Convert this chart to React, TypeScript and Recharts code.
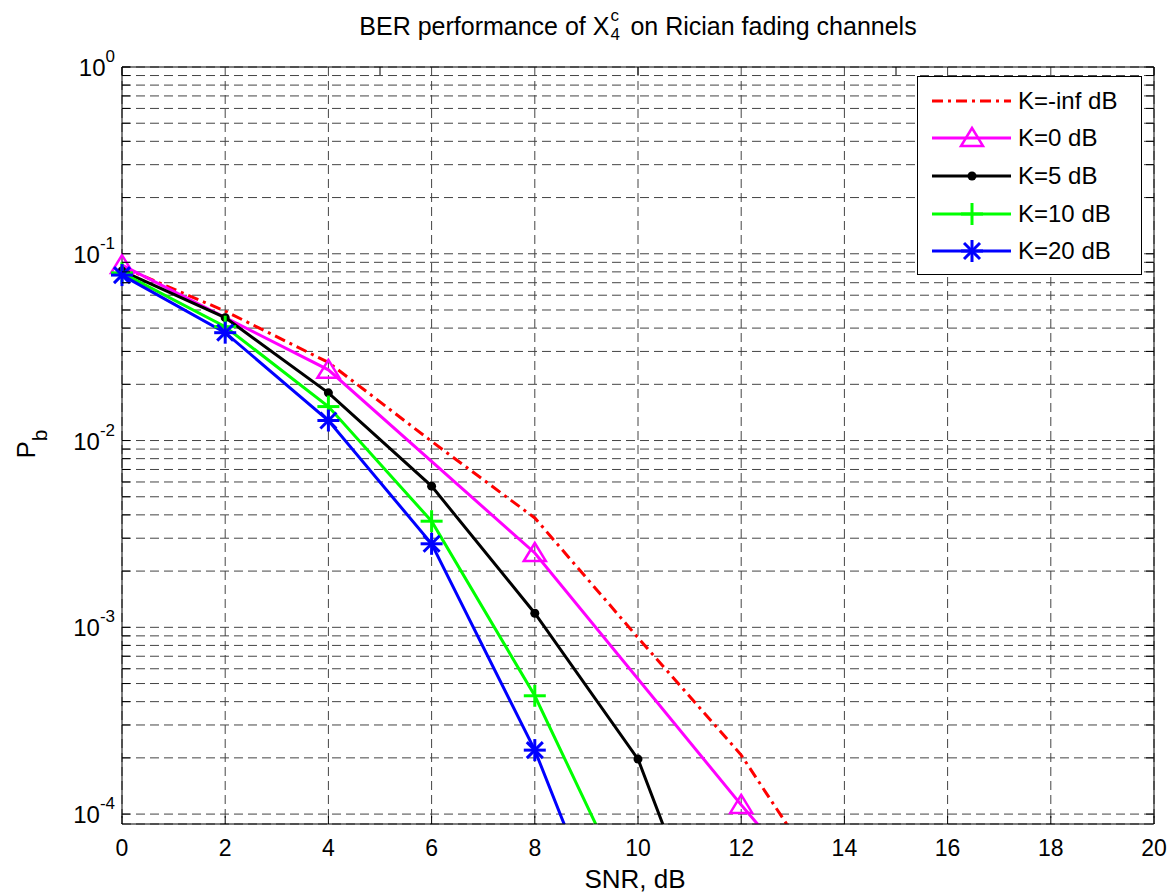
import React from "react";
import { LineChart, Line, XAxis, YAxis, CartesianGrid, Legend } from "recharts";

// SNR in dB, one entry per simulated point
const SNR = [0, 2, 4, 6, 8, 10, 12, 14, 16];

// bit error probability per Rician K factor (null = no point there / curve already left the plot)
const K_NEG_INF = [0.085, 0.0493, 0.0262, 0.0099, 0.00385, 0.00088, 0.000207, 0.00003, null];
const K_0 = [0.087, null, 0.0239, null, 0.0025, null, 0.000112, null, 0.0000057];
const K_5 = [0.081, 0.0455, 0.018, 0.0057, 0.00119, 0.000197, 0.000007, null, null];
const K_10 = [0.079, 0.0407, 0.0152, 0.0037, 0.00043, 0.0000295, null, null, null];
const K_20 = [0.0769, 0.0378, 0.0128, 0.0028, 0.00022, 0.0000089, null, null, null];

const X_TICKS = [0, 2, 4, 6, 8, 10, 12, 14, 16, 18, 20];
const Y_DECADES = [-4, -3, -2, -1];
const Y_MANTISSAS = [1, 2, 3, 4, 5, 6, 7, 8, 9];
const Y_MIN = 8.85e-5;
const Y_MAX = 1;

const Y_TICKS = [
  ...Y_DECADES.flatMap((d) => Y_MANTISSAS.map((m) => m * Math.pow(10, d))),
  Y_MAX,
];

type MarkerType = "none" | "triangle" | "dot" | "plus" | "star";

const SERIES: { key: string; name: string; color: string; marker: MarkerType; values: (number | null)[]; dash?: string }[] = [
  { key: "kInf", name: "K=-inf dB", color: "#ff0000", marker: "none", values: K_NEG_INF, dash: "11 5 3 5" },
  { key: "k0", name: "K=0 dB", color: "#ff00ff", marker: "triangle", values: K_0 },
  { key: "k5", name: "K=5 dB", color: "#000000", marker: "dot", values: K_5 },
  { key: "k10", name: "K=10 dB", color: "#00ff00", marker: "plus", values: K_10 },
  { key: "k20", name: "K=20 dB", color: "#0000ff", marker: "star", values: K_20 },
];

// line values plus a "marks" copy that only keeps points inside the y range
// (markers are drawn unclipped on their own axis, like MATLAB does)
const data = SNR.map((snr, i) => {
  const row: Record<string, number | null> = { snr };
  SERIES.forEach((s) => {
    const v = s.values[i];
    row[s.key] = v;
    row[`${s.key}Mark`] = v != null && v >= Y_MIN ? v : null;
  });
  return row;
});

const FONT = '"Liberation Sans", Arial, Helvetica, sans-serif';
const TICK_LEN = 8;

function Marker({ type, cx, cy, color }: { type: MarkerType; cx: number; cy: number; color: string }) {
  if (type === "triangle") {
    const pts = `${cx},${cy - 10} ${cx + 11},${cy + 8} ${cx - 11},${cy + 8}`;
    return <polygon points={pts} fill="none" stroke={color} strokeWidth={2.5} />;
  }
  if (type === "dot") return <circle cx={cx} cy={cy} r={4.5} fill={color} />;
  if (type === "plus")
    return (
      <g stroke={color} strokeWidth={3}>
        <line x1={cx - 11} x2={cx + 11} y1={cy} y2={cy} />
        <line x1={cx} x2={cx} y1={cy - 11} y2={cy + 11} />
      </g>
    );
  if (type === "star")
    return (
      <g stroke={color} strokeWidth={3}>
        <line x1={cx - 11} x2={cx + 11} y1={cy} y2={cy} />
        <line x1={cx} x2={cx} y1={cy - 11} y2={cy + 11} />
        <line x1={cx - 8} x2={cx + 8} y1={cy - 8} y2={cy + 8} />
        <line x1={cx - 8} x2={cx + 8} y1={cy + 8} y2={cy - 8} />
      </g>
    );
  return null;
}

function isDecade(v: number) {
  const l = Math.log10(v);
  return Math.abs(l - Math.round(l)) < 1e-9;
}

function BottomTick({ x, y, payload }: any) {
  return (
    <g>
      <line x1={x} x2={x} y1={y} y2={y - TICK_LEN} stroke="#000" />
      <text x={x} y={y + 32} textAnchor="middle" fontSize={23} fontFamily={FONT} fill="#000">
        {payload.value}
      </text>
    </g>
  );
}

function TopTick({ x, y }: any) {
  return <line x1={x} x2={x} y1={y} y2={y + TICK_LEN} stroke="#000" />;
}

function LeftTick({ x, y, payload }: any) {
  const v = payload.value;
  return (
    <g>
      <line x1={x} x2={x + TICK_LEN} y1={y} y2={y} stroke="#000" />
      {isDecade(v) && (
        <text x={x - 7} y={y + 9} textAnchor="end" fontSize={24} fontFamily={FONT} fill="#000">
          10
          <tspan dy={-14} fontSize={17}>
            {Math.round(Math.log10(v))}
          </tspan>
        </text>
      )}
    </g>
  );
}

function RightTick({ x, y }: any) {
  return <line x1={x - TICK_LEN} x2={x} y1={y} y2={y} stroke="#000" />;
}

function XLabel({ viewBox }: any) {
  const cx = viewBox.x + viewBox.width / 2;
  return (
    <text x={cx - 3} y={viewBox.y + viewBox.height + 24} textAnchor="middle" fontSize={26} fontFamily={FONT} fill="#000">
      SNR, dB
    </text>
  );
}

function YLabel() {
  const cx = 35;
  const cy = 444;
  return (
    <text x={cx} y={cy} transform={`rotate(-90 ${cx} ${cy})`} textAnchor="middle" fontSize={26} fontFamily={FONT} fill="#000">
      P
      <tspan dy={12} fontSize={21}>
        b
      </tspan>
    </text>
  );
}

function LegendBox() {
  return (
    <div
      style={{
        width: 225,
        height: 199,
        boxSizing: "border-box",
        border: "1px solid #000",
        background: "#fff",
        paddingTop: 5,
        fontFamily: FONT,
      }}
    >
      {SERIES.map((s) => (
        <div key={s.key} style={{ display: "flex", alignItems: "center", height: 37.6 }}>
          <svg width={100} height={30} style={{ display: "block" }}>
            <line x1={14} x2={93} y1={15} y2={15} stroke={s.color} strokeWidth={3} strokeDasharray={s.dash} />
            <Marker type={s.marker} cx={54} cy={15} color={s.color} />
          </svg>
          <span style={{ fontSize: 24, color: "#000", lineHeight: 1 }}>{s.name}</span>
        </div>
      ))}
    </div>
  );
}

export default function App() {
  return (
    <div style={{ position: "absolute", left: 0, top: 0, width: 1169, height: 893, background: "#fff" }}>
      <div
        style={{
          position: "absolute",
          left: 138,
          top: 12,
          width: 1000,
          textAlign: "center",
          fontFamily: FONT,
          fontSize: 25,
          color: "#000",
          zIndex: 2,
        }}
      >
        BER performance of X
        <span style={{ display: "inline-block", position: "relative", width: 14, height: 20 }}>
          <span style={{ position: "absolute", left: 1, top: -9, fontSize: 17 }}>c</span>
          <span style={{ position: "absolute", left: 1, top: 10, fontSize: 17 }}>4</span>
        </span>{" "}
        on Rician fading channels
      </div>
      <LineChart width={1169} height={893} data={data} margin={{ top: 57, right: 5, bottom: 29, left: 42 }}>
        <CartesianGrid stroke="#444" strokeDasharray="9 5" strokeWidth={1} />
        <XAxis
          dataKey="snr"
          type="number"
          domain={[0, 20]}
          ticks={X_TICKS}
          interval={0}
          height={40}
          tickSize={0}
          tickMargin={0}
          tickLine={false}
          axisLine={{ stroke: "#000" }}
          tick={(p: any) => <BottomTick {...p} />}
          label={<XLabel />}
        />
        <XAxis
          xAxisId="top"
          orientation="top"
          type="number"
          domain={[0, 20]}
          ticks={X_TICKS}
          interval={0}
          allowDataOverflow
          height={10}
          tickSize={0}
          tickMargin={0}
          tickLine={false}
          axisLine={{ stroke: "#000" }}
          tick={(p: any) => <TopTick {...p} />}
        />
        <YAxis
          scale="log"
          type="number"
          domain={[Y_MIN, Y_MAX]}
          ticks={Y_TICKS}
          interval={0}
          allowDataOverflow
          width={80}
          tickSize={0}
          tickMargin={0}
          tickLine={false}
          axisLine={{ stroke: "#000" }}
          tick={(p: any) => <LeftTick {...p} />}
          label={<YLabel />}
        />
        <YAxis
          yAxisId="right"
          orientation="right"
          scale="log"
          type="number"
          domain={[Y_MIN, Y_MAX]}
          ticks={Y_TICKS}
          interval={0}
          allowDataOverflow
          width={10}
          tickSize={0}
          tickMargin={0}
          tickLine={false}
          axisLine={{ stroke: "#000" }}
          tick={(p: any) => <RightTick {...p} />}
        />
        <YAxis yAxisId="marks" hide scale="log" type="number" domain={[Y_MIN, Y_MAX]} />
        <Legend
          layout="vertical"
          align="center"
          verticalAlign="middle"
          content={() => <LegendBox />}
          wrapperStyle={{ position: "absolute", left: 917, top: 76, width: 225, height: 199 }}
        />
        {SERIES.map((s) => (
          <Line
            key={s.key}
            dataKey={s.key}
            name={s.name}
            stroke={s.color}
            strokeWidth={3}
            strokeDasharray={s.dash}
            connectNulls
            isAnimationActive={false}
            activeDot={false}
            dot={false}
          />
        ))}
        {SERIES.filter((s) => s.marker !== "none").map((s) => (
          <Line
            key={`${s.key}Mark`}
            yAxisId="marks"
            dataKey={`${s.key}Mark`}
            legendType="none"
            stroke="none"
            isAnimationActive={false}
            activeDot={false}
            dot={(p: any) =>
              p.cx == null || p.cy == null || p.value == null ? (
                <g key={`${s.key}-${p.index}`} />
              ) : (
                <g key={`${s.key}-${p.index}`}>
                  <Marker type={s.marker} cx={p.cx} cy={p.cy} color={s.color} />
                </g>
              )
            }
          />
        ))}
      </LineChart>
    </div>
  );
}
